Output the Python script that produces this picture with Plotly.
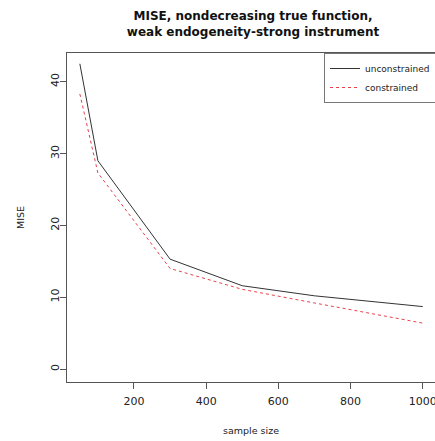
import plotly.graph_objects as go

sample_size = [50, 100, 300, 500, 700, 1000]
mise_unconstrained = [42.5, 29.0, 15.3, 11.6, 10.2, 8.7]
mise_constrained = [38.3, 27.3, 14.0, 11.1, 9.2, 6.4]
x_ticks = [200, 400, 600, 800, 1000]
y_ticks = [0, 10, 20, 30, 40]

FONT = "DejaVu Sans, Liberation Sans, Arial, sans-serif"

fig = go.Figure()
fig.add_trace(go.Scatter(x=sample_size, y=mise_unconstrained, mode="lines",
                         name="unconstrained", line=dict(color="#333333", width=1)))
fig.add_trace(go.Scatter(x=sample_size, y=mise_constrained, mode="lines",
                         name="constrained", line=dict(color="#e8404a", width=1, dash="3px,3px")))

fig.update_layout(
    width=435, height=441,
    margin=dict(l=67, r=0, t=53, b=59, autoexpand=False),
    paper_bgcolor="white", plot_bgcolor="white",
    font=dict(family=FONT, color="#222222"),
    title=dict(text="<b>MISE, nondecreasing true function,<br>weak endogeneity-strong instrument</b>",
               x=253/435, xanchor="center", xref="container", yref="container",
               y=1 - 20/441, yanchor="middle", font=dict(size=12, color="#111111", family=FONT)),
    showlegend=True,
    legend=dict(x=(324-67)/368, y=1, xanchor="left", yanchor="top",
                bordercolor="#777777", borderwidth=1, bgcolor="white",
                font=dict(size=9, family=FONT), tracegroupgap=0, itemwidth=30),
    xaxis=dict(range=[14.4, 1034], tickvals=x_ticks, ticktext=[str(v) for v in x_ticks],
               showgrid=False, zeroline=False, showline=True, linecolor="#555555", linewidth=1,
               mirror=True, ticks="outside", ticklen=6, tickcolor="#555555",
               tickfont=dict(size=11, family=FONT), ticklabelstandoff=3,
               ticklabeloverflow="allow",
               title=dict(text="sample size", font=dict(size=9.5, family=FONT), standoff=20)),
    yaxis=dict(range=[-1.8, 44.0], tickvals=y_ticks, ticktext=[str(v) for v in y_ticks],
               showgrid=False, zeroline=False, showline=True, linecolor="#555555", linewidth=1,
               ticks="outside", ticklen=6, tickcolor="#555555", tickangle=-90,
               tickfont=dict(size=11, family=FONT), ticklabelstandoff=-3,
               title=dict(text="MISE", font=dict(size=9.5, family=FONT), standoff=22)),
)

fig.write_html("out.html")
